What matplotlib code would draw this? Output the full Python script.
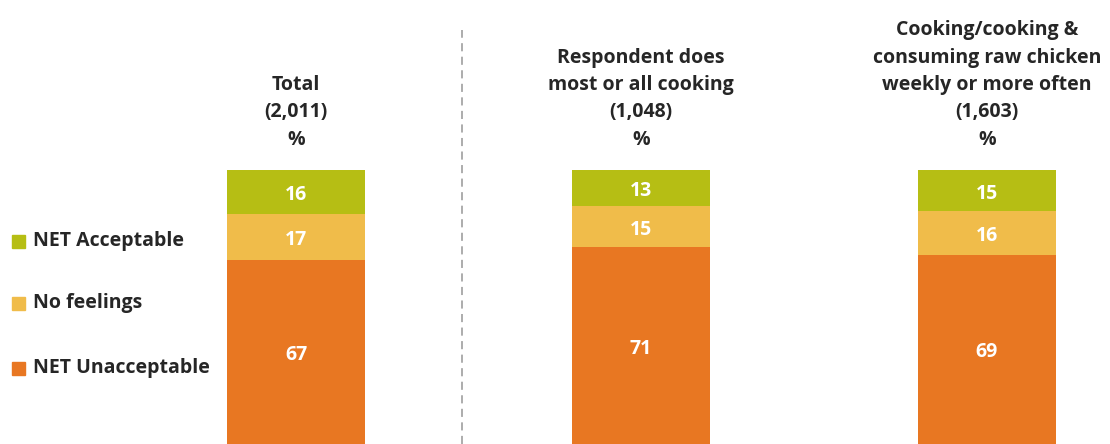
import matplotlib
matplotlib.use("Agg")
import matplotlib.pyplot as plt
import numpy as np

# Survey groups and their column headers
groups = ["Total", "Respondent does most or all cooking",
          "Cooking/cooking & consuming raw chicken weekly or more often"]
headers = ["Total\n(2,011)\n%",
           "Respondent does\nmost or all cooking\n(1,048)\n%",
           "Cooking/cooking &\nconsuming raw chicken\nweekly or more often\n(1,603)\n%"]

# Response shares (%), stacked bottom to top
net_unacceptable = [67, 71, 69]
no_feelings = [17, 15, 16]
net_acceptable = [16, 13, 15]

series_names = ["NET Acceptable", "No feelings", "NET Unacceptable"]

C_ACC = "#B6BE14"
C_NOF = "#F0BC4A"
C_UNA = "#E87722"
TEXT = "#262626"
FONT = "Open Sans"
FS = 14

W, H = 1110, 444
fig = plt.figure(figsize=(W / 100, H / 100), dpi=100)

# Plot area: bars occupy the lower part of the canvas
bar_top_px = 170
ax = fig.add_axes([0, 0, 1, (H - bar_top_px) / H])
ax.set_xlim(0, W)
ax.set_ylim(0, 100)
ax.axis("off")

centers = np.array([296, 641, 987])
bar_w = 138

stack = np.array([net_unacceptable, no_feelings, net_acceptable], dtype=float)
shares = stack / stack.sum(axis=0) * 100
colors = [C_UNA, C_NOF, C_ACC]

bottom = np.zeros(len(groups))
for vals, pct, col in zip(stack, shares, colors):
    ax.bar(centers, pct, bottom=bottom, width=bar_w, color=col,
           edgecolor="none")
    for xc, b, p, v in zip(centers, bottom, pct, vals):
        ax.annotate(f"{v:.0f}", (xc, b + p / 2), xytext=(0, -3),
                    textcoords="offset pixels", ha="center", va="center",
                    color="white", fontsize=FS, fontweight="bold",
                    family=FONT)
    bottom += pct

# Column headers
for xc, h in zip(centers, headers):
    fig.text(xc / W, 1 - 145 / H, h, ha="center", va="baseline",
             fontsize=FS, fontweight="bold", color=TEXT, family=FONT,
             linespacing=1.5)

# Divider between total and subgroups
fig.add_artist(plt.Line2D([462 / W, 462 / W], [0, 1 - 30 / H],
                          color="#A6A6A6", lw=1.3,
                          linestyle=(0, (4.5, 3.0))))

# Legend
legend_y = [241, 303, 368]
legend_cols = [C_ACC, C_NOF, C_UNA]
for name, col, y in zip(series_names, legend_cols, legend_y):
    fig.patches.append(plt.Rectangle((12 / W, 1 - (y + 7) / H), 13 / W,
                                     13 / H, transform=fig.transFigure,
                                     color=col, figure=fig))
    fig.text(33 / W, 1 - y / H, name, ha="left", va="center",
             fontsize=FS, fontweight="bold", color=TEXT, family=FONT)

fig.savefig("out.png", dpi=100)
